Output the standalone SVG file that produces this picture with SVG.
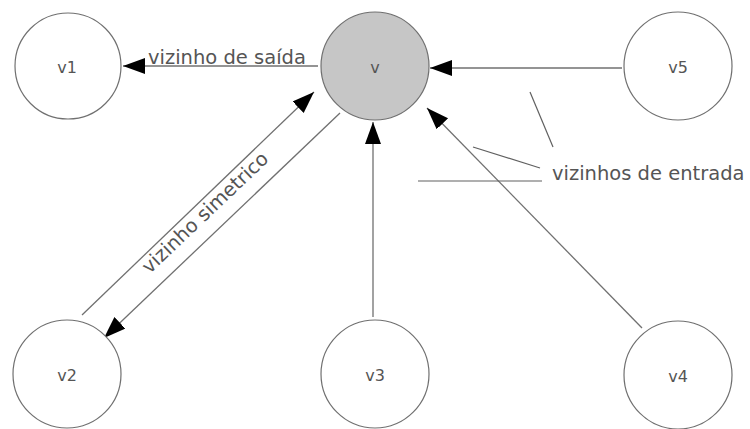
<svg xmlns="http://www.w3.org/2000/svg" width="750" height="429" viewBox="0 0 750 429">
  <style>
    .node circle { fill: #ffffff; stroke: #707070; stroke-width: 1.2; }
    .node.center circle { fill: #c6c6c6; }
    .node text, .label { font-family: "DejaVu Sans", Verdana, sans-serif; fill: #555555; }
    .node text { text-anchor: middle; font-size: 16px; }
    .label { font-size: 19.5px; }
    .edge { stroke: #707070; stroke-width: 1.3; fill: none; }
    .pointer { stroke: #606060; stroke-width: 1.2; fill: none; }
  </style>
  <defs>
    <marker id="arrow" markerUnits="userSpaceOnUse" markerWidth="24" markerHeight="18" refX="22" refY="8" orient="auto">
      <path d="M0,0 L22,8 L0,16 Z" fill="#000000"/>
    </marker>
  </defs>

  <rect width="750" height="429" fill="#ffffff"/>

  <g id="connectors">
    <!-- outgoing: v -> v1 -->
    <line class="edge" x1="318" y1="66" x2="123" y2="66" marker-end="url(#arrow)"/>
    <!-- incoming: v5 -> v -->
    <line class="edge" x1="622" y1="68" x2="430" y2="68" marker-end="url(#arrow)"/>
    <!-- incoming: v3 -> v -->
    <line class="edge" x1="373" y1="317" x2="373" y2="122" marker-end="url(#arrow)"/>
    <!-- incoming: v4 -> v -->
    <line class="edge" x1="642" y1="328" x2="427" y2="108" marker-end="url(#arrow)"/>
    <!-- symmetric pair: v2 <-> v -->
    <line class="edge" x1="82" y1="315" x2="314" y2="92" marker-end="url(#arrow)"/>
    <line class="edge" x1="340" y1="113" x2="104" y2="338" marker-end="url(#arrow)"/>

    <!-- leader lines for the incoming-neighbour label -->
    <line class="pointer" x1="530" y1="92" x2="553" y2="147"/>
    <line class="pointer" x1="473" y1="147" x2="540" y2="168"/>
    <line class="pointer" x1="418" y1="181" x2="542" y2="181"/>

    <text class="label" x="148" y="64">vizinho de saída</text>
    <text class="label" x="552" y="180">vizinhos de entrada</text>
    <text class="label" transform="translate(149.5,274.5) rotate(-43.5)">vizinho simetrico</text>
  </g>

  <g id="node-v" class="node center">
    <circle cx="375" cy="66" r="54"/>
    <text x="375" y="73">v</text>
  </g>
  <g id="node-v1" class="node">
    <circle cx="68" cy="66" r="53"/>
    <text x="67" y="73">v1</text>
  </g>
  <g id="node-v5" class="node">
    <circle cx="678" cy="66" r="54"/>
    <text x="678" y="73">v5</text>
  </g>
  <g id="node-v2" class="node">
    <circle cx="67" cy="374" r="54"/>
    <text x="67" y="381">v2</text>
  </g>
  <g id="node-v3" class="node">
    <circle cx="375" cy="374" r="54"/>
    <text x="375" y="381">v3</text>
  </g>
  <g id="node-v4" class="node">
    <circle cx="678" cy="375" r="54"/>
    <text x="678" y="382">v4</text>
  </g>
</svg>
